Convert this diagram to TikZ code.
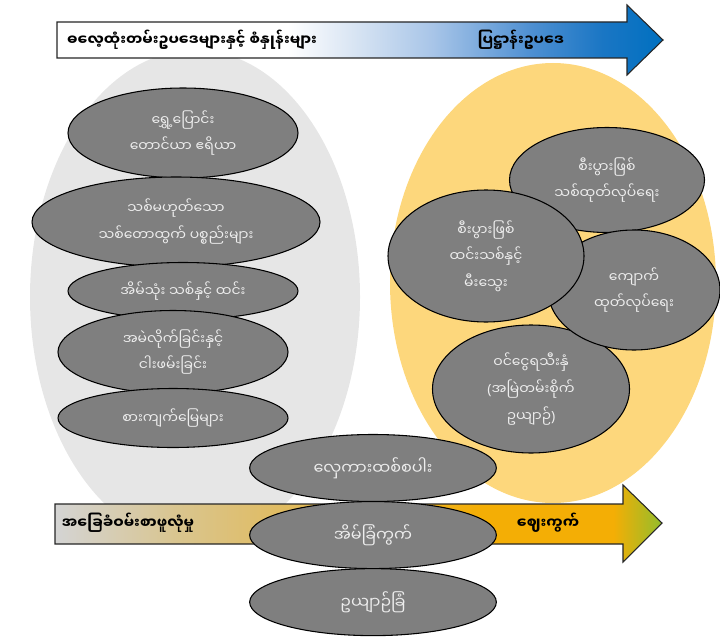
\documentclass[tikz,border=0pt]{standalone}
\usepackage{fontspec}
\newfontfamily\mmfont[Script=Myanmar]{Noto Sans Myanmar UI}
\newfontfamily\latinfont{Noto Sans}
\usetikzlibrary{shapes.geometric,positioning}
\definecolor{zonegray}{HTML}{E6E6E6}
\definecolor{zoneyellow}{HTML}{FDD77C}
\definecolor{leafgray}{HTML}{7F7F7F}
\definecolor{leaftext}{HTML}{EDEDED}
\definecolor{lawA}{HTML}{DCE7F4}
\definecolor{lawB}{HTML}{A8C5E8}
\definecolor{lawC}{HTML}{4F90D2}
\definecolor{lawD}{HTML}{1A76C4}
\definecolor{lawE}{HTML}{0070C0}
\definecolor{useA}{HTML}{D4D4D4}
\definecolor{useB}{HTML}{D9C58F}
\definecolor{useC}{HTML}{E3B850}
\definecolor{useD}{HTML}{F4AE05}
\definecolor{useE}{HTML}{93BD2C}
\pgfdeclarehorizontalshading{lawshade}{100bp}{color(0bp)=(white); color(25bp)=(white); color(44bp)=(white); color(49bp)=(lawA); color(56bp)=(lawB); color(64bp)=(lawC); color(70bp)=(lawD); color(75bp)=(lawE); color(100bp)=(lawE)}
\pgfdeclarehorizontalshading{useshade}{100bp}{color(0bp)=(useA); color(25bp)=(useA); color(35bp)=(useB); color(47bp)=(useC); color(60bp)=(useD); color(71bp)=(useD); color(75bp)=(useE); color(100bp)=(useE)}
\begin{document}
\begin{tikzpicture}[
  x=0.75pt, y=-0.75pt,
  every node/.style={font=\mmfont\fontsize{10.5pt}{20pt}\selectfont},
  leaf/.style={ellipse, draw=black, line width=0.8pt, fill=leafgray, text=leaftext, align=center, inner sep=0pt},
  bigleaf/.style={leaf, minimum width=185pt, minimum height=50.25pt, font=\mmfont\fontsize{12pt}{20pt}\selectfont},
  band/.style={draw=black!85, line width=0.8pt},
  bandtext/.style={font=\mmfont\bfseries\fontsize{11pt}{13pt}\selectfont, text=black}
]
\useasboundingbox (0,0) rectangle (720,638);

\fill[zonegray] (195,297) ellipse [x radius=165, y radius=247];
\fill[zoneyellow] (553,283) ellipse [x radius=163, y radius=220];

\node[leaf, minimum width=172.5pt, minimum height=67.5pt] (Shifting) at (183,133) {ရွှေ့ပြောင်း\\တောင်ယာ ဧရိယာ};
\node[leaf, minimum width=216pt, minimum height=67.5pt] (Ntfp) at (176,222) {သစ်မဟုတ်သော\\သစ်တောထွက် ပစ္စည်းများ};
\node[leaf, minimum width=172.5pt, minimum height=42.75pt] (Household) at (183,291) {အိမ်သုံး သစ်နှင့် ထင်း};
\node[leaf, minimum width=172.5pt, minimum height=62.25pt] (Hunting) at (173,352) {အမဲလိုက်ခြင်းနှင့်\\ငါးဖမ်းခြင်း};
\node[leaf, minimum width=172.5pt, minimum height=44.25pt] (Grazing) at (173,418) {စားကျက်မြေများ};

\node[leaf, minimum width=146.25pt, minimum height=78.75pt] (Timber) at (607,180) {စီးပွားဖြစ်\\သစ်ထုတ်လုပ်ရေး};
\node[leaf, minimum width=147.75pt, minimum height=96pt] (CashCrop) at (531,389) {ဝင်ငွေရသီးနှံ\\{\latinfont(}အမြဲတမ်းစိုက်\\ဥယျာဉ်{\latinfont)}};
\node[leaf, minimum width=129pt, minimum height=90pt] (Quarry) at (634,290) {ကျောက်\\ထုတ်လုပ်ရေး};
\node[leaf, minimum width=147pt, minimum height=99pt] (Charcoal) at (486,256) {စီးပွားဖြစ်\\ထင်းသစ်နှင့်\\မီးသွေး};

\shadedraw[band, shading=lawshade] (57,22) -- (627,22) -- (627,5) -- (663,40) -- (627,75) -- (627,58) -- (57,58) -- cycle;
\node[bandtext] (CustomLbl) at (192,40) {ဓလေ့ထုံးတမ်းဥပဒေများနှင့် စံနှုန်းများ};
\node[bandtext] (StatuteLbl) at (521,40) {ပြဋ္ဌာန်းဥပဒေ};

\shadedraw[band, shading=useshade] (55,504) -- (623,504) -- (623,485) -- (662,523) -- (623,562) -- (623,544) -- (55,544) -- cycle;
\node[bandtext] (SubsistLbl) at (128,523) {အခြေခံဝမ်းစာဖူလုံမှု};
\node[bandtext] (MarketLbl) at (548,523) {ဈေးကွက်};

\node[bigleaf] (Terrace) at (373,468) {လှေကားထစ်စပါး};
\node[bigleaf, below=-0.75pt of Terrace] (HomeGarden) {အိမ်ခြံကွက်};
\node[bigleaf, below=-0.75pt of HomeGarden] (Orchard) {ဥယျာဉ်ခြံ};

\end{tikzpicture}
\end{document}
